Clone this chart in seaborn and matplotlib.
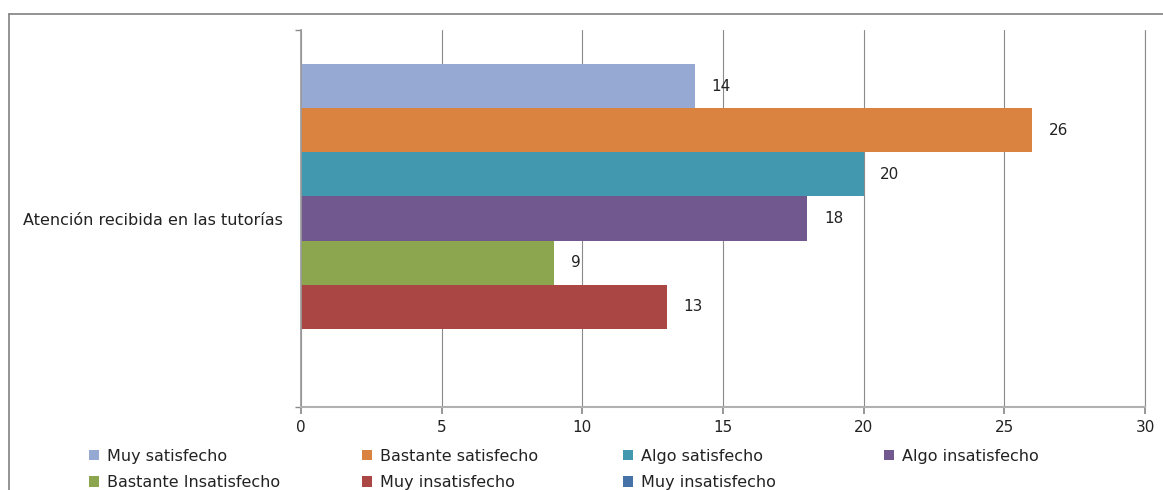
import pandas as pd
import matplotlib.pyplot as plt
import seaborn as sns
from matplotlib.patches import Patch
from matplotlib.lines import Line2D

category = "Atención recibida en las tutorías"
series_labels = [
    "Muy satisfecho",
    "Bastante satisfecho",
    "Algo satisfecho",
    "Algo insatisfecho",
    "Bastante Insatisfecho",
    "Muy insatisfecho",
    "Muy insatisfecho",
]
values = [14, 26, 20, 18, 9, 13, 0]
colors = ["#95A9D2", "#DA8340", "#4298AF", "#71588F", "#8BA64F", "#AA4643", "#4572A7"]

sns.set_theme(style="white")
plt.rcParams["font.family"] = ["DejaVu Sans"]

df = pd.DataFrame({
    "categoria": [category] * len(values),
    "serie": list(range(len(values))),
    "valor": values,
})

fig = plt.figure(figsize=(11.63, 4.9), dpi=100)
ax = fig.add_axes([301 / 1163, 1 - 407 / 490, 844 / 1163, 377 / 490])

sns.barplot(
    data=df, x="valor", y="categoria", hue="serie",
    hue_order=list(range(len(values))), palette=colors,
    width=0.817, linewidth=0, saturation=1, legend=False, ax=ax,
)

for cont, v in zip(ax.containers, values):
    ax.bar_label(cont, labels=[f"{v:g}" if v else ""], padding=12,
                 fontsize=11, color="#222222")

ax.set_xlim(0, 30)
ax.set_xticks(range(0, 31, 5))
ax.set_ylim(0.5, -0.5)
ax.set_xlabel("")
ax.set_ylabel("")
ax.grid(axis="x", color="#8a8a8a", linewidth=0.8)
ax.axvline(30, color="#8a8a8a", linewidth=0.8, clip_on=False, zorder=0)
ax.set_axisbelow(True)
for side in ["top", "right"]:
    ax.spines[side].set_visible(False)
ax.spines["left"].set_color("#9a9a9a")
ax.spines["bottom"].set_color("#b0b0b0")
ax.spines["bottom"].set_linewidth(1.5)
ax.tick_params(axis="x", bottom=True, direction="out", length=5, color="#8a8a8a",
               labelsize=11, pad=4, labelcolor="#222222")
ax.tick_params(axis="y", left=False, labelsize=11.5, pad=7, labelcolor="#222222")
ax.set_yticks([-0.5, 0.5], minor=True)
ax.tick_params(axis="y", which="minor", left=True, length=4, color="#8a8a8a")

# legend: 4 fixed-width columns, filled row by row
col_x = [89, 362, 623, 884]
for c, x in enumerate(col_x):
    idx = [i for i in range(len(series_labels)) if i % 4 == c]
    leg = fig.legend(
        [Patch(facecolor=colors[i], edgecolor="none") for i in idx],
        [series_labels[i] for i in idx],
        loc="upper left", bbox_to_anchor=(x / 1163, 1 - 449 / 490),
        frameon=False, fontsize=11.5, handlelength=0.6, handleheight=0.6,
        handletextpad=0.5, labelspacing=0.7, borderaxespad=0, borderpad=0,
        labelcolor="#222222",
    )

# outer chart border (left and top edges visible)
fig.add_artist(Line2D([9 / 1163, 9 / 1163], [0, 1 - 14 / 490], transform=fig.transFigure,
                      color="#808080", linewidth=1.2))
fig.add_artist(Line2D([9 / 1163, 1], [1 - 14 / 490, 1 - 14 / 490], transform=fig.transFigure,
                      color="#808080", linewidth=1.2))

fig.savefig("out.png", dpi=100)
